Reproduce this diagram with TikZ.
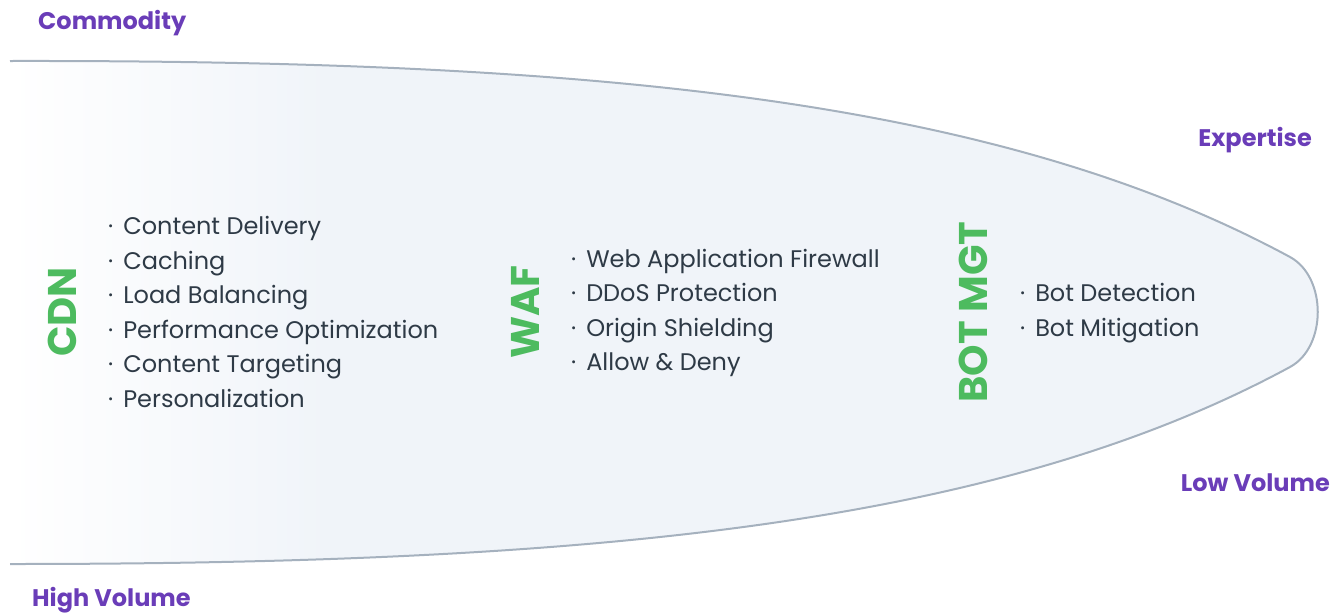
\documentclass[tikz,border=0pt]{standalone}
\usepackage{fontspec}
\setmainfont{Poppins}
\newfontfamily\headfont{Poppins}
\definecolor{hullfill}{HTML}{F0F4F9}
\definecolor{hullline}{HTML}{A5B1BE}
\definecolor{axispurple}{HTML}{6A3DB8}
\definecolor{groupgreen}{HTML}{4DBB5F}
\definecolor{itemtext}{HTML}{2E3A46}
\newcommand{\itm}{·\hspace{10pt}}
\tikzset{
  axis/.style={font=\headfont\bfseries\fontsize{24}{28}\selectfont, text=axispurple, inner sep=0pt},
  group/.style={font=\headfont\bfseries\fontsize{40}{44}\selectfont, text=groupgreen, rotate=90, inner sep=0pt},
  items/.style={font=\fontsize{24}{34.6}\selectfont, text=itemtext, align=left, anchor=west, inner sep=0pt},
}
\def\hull{(10,61) .. controls (600,60) and (1000,100) .. (1290,257)
    .. controls (1327,277) and (1327,347) .. (1290,367)
    .. controls (1000,524) and (600,564) .. (10,564)}
\begin{document}
\begin{tikzpicture}[x=1pt, y=-1pt]
  \useasboundingbox (0,0) rectangle (1334,614);

  % the hull
  \fill[hullfill] \hull -- cycle;
  \begin{scope}
    \clip \hull -- cycle;
    \shade[left color=white, right color=hullfill] (10,50) rectangle (330,580);
  \end{scope}
  \draw[hullline, line width=2pt] \hull;

  % axis labels
  \node[axis, anchor=west] (commodity) at (38,23) {Commodity};
  \node[axis, anchor=east] (expertise) at (1312,140) {Expertise};
  \node[axis, anchor=east] (lowvol) at (1330,483) {Low Volume};
  \node[axis, anchor=west] (highvol) at (32,600) {High Volume};

  % groups
  \node[group] (cdn) at (62,312) {CDN};
  \node[group] (waf) at (525,312) {WAF};
  \node[group] (bot) at (973,312) {BOT MGT};

  % items
  \node[items] (cdnlist) at (108,312) {\itm Content Delivery\\\itm Caching\\\itm Load Balancing\\\itm Performance Optimization\\\itm Content Targeting\\\itm Personalization};
  \node[items] (waflist) at (571,313) {\itm Web Application Firewall\\\itm DDoS Protection\\\itm Origin Shielding\\\itm Allow \& Deny};
  \node[items] (botlist) at (1020,313) {\itm Bot Detection\\\itm Bot Mitigation};
\end{tikzpicture}
\end{document}
